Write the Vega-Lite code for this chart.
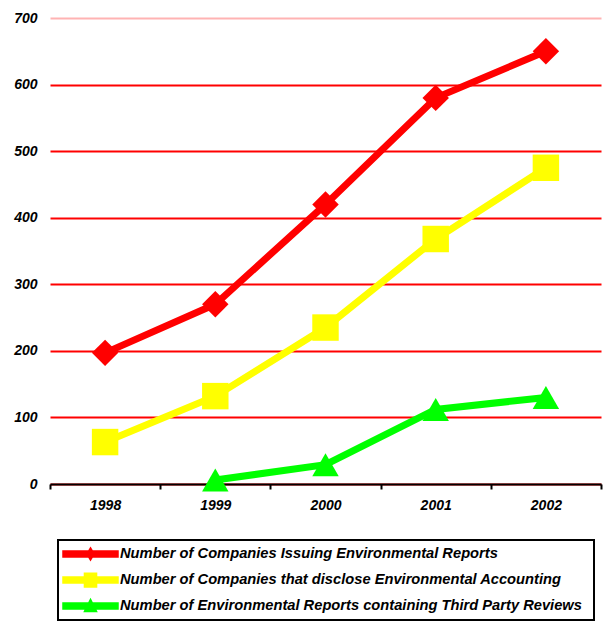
{
  "$schema": "https://vega.github.io/schema/vega-lite/v6.json",
  "width": 551,
  "height": 466,
  "autosize": "none",
  "padding": {"left": 50, "top": 18, "right": 2, "bottom": 139},
  "background": "white",
  "config": {
    "view": {"stroke": null},
    "font": "Liberation Sans"
  },
  "data": {
    "values": [
      {"year": "1998", "series": "Number of Companies Issuing Environmental Reports", "value": 197},
      {"year": "1999", "series": "Number of Companies Issuing Environmental Reports", "value": 270},
      {"year": "2000", "series": "Number of Companies Issuing Environmental Reports", "value": 420},
      {"year": "2001", "series": "Number of Companies Issuing Environmental Reports", "value": 580},
      {"year": "2002", "series": "Number of Companies Issuing Environmental Reports", "value": 650},
      {"year": "1998", "series": "Number of Companies that disclose Environmental Accounting", "value": 63},
      {"year": "1999", "series": "Number of Companies that disclose Environmental Accounting", "value": 132},
      {"year": "2000", "series": "Number of Companies that disclose Environmental Accounting", "value": 235},
      {"year": "2001", "series": "Number of Companies that disclose Environmental Accounting", "value": 368},
      {"year": "2002", "series": "Number of Companies that disclose Environmental Accounting", "value": 475},
      {"year": "1999", "series": "Number of Environmental Reports containing Third Party Reviews", "value": 6},
      {"year": "2000", "series": "Number of Environmental Reports containing Third Party Reviews", "value": 29},
      {"year": "2001", "series": "Number of Environmental Reports containing Third Party Reviews", "value": 112},
      {"year": "2002", "series": "Number of Environmental Reports containing Third Party Reviews", "value": 130}
    ]
  },
  "encoding": {
    "x": {
      "field": "year",
      "type": "ordinal",
      "bandPosition": 0.5,
      "scale": {"type": "band", "paddingInner": 0, "paddingOuter": 0},
      "axis": {
        "title": null,
        "labelAngle": 0,
        "tickBand": "extent",
        "domainColor": "black",
        "domainWidth": 2,
        "tickColor": "black",
        "tickWidth": 2,
        "tickSize": 5,
        "labelPadding": 9,
        "labelFont": "Liberation Sans",
        "labelFontSize": 14,
        "labelFontWeight": "bold",
        "labelFontStyle": "italic",
        "labelColor": "black"
      }
    },
    "y": {
      "field": "value",
      "type": "quantitative",
      "scale": {"domain": [0, 700], "nice": false},
      "axis": {
        "title": null,
        "values": [0, 100, 200, 300, 400, 500, 600, 700],
        "domain": false,
        "ticks": false,
        "labelPadding": 13,
        "labelFont": "Liberation Sans",
        "labelFontSize": 14,
        "labelFontWeight": "bold",
        "labelFontStyle": "italic",
        "labelColor": "black",
        "grid": true,
        "gridWidth": 2,
        "gridColor": {"condition": {"test": "datum.value == 700", "value": "#ffb3b3"}, "value": "#ff0000"},
        "zindex": 0
      }
    },
    "color": {
      "field": "series",
      "type": "nominal",
      "scale": {
        "domain": [
          "Number of Companies Issuing Environmental Reports",
          "Number of Companies that disclose Environmental Accounting",
          "Number of Environmental Reports containing Third Party Reviews"
        ],
        "range": ["#ff0000", "#ffff00", "#00ff00"]
      },
      "legend": {
        "title": " ",
        "titleOrient": "right",
        "titlePadding": 10,
        "orient": "none",
        "legendX": 8,
        "legendY": 522,
        "direction": "vertical",
        "strokeColor": "black",
        "padding": 2,
        "clipHeight": 24,
        "rowPadding": 2,
        "symbolSize": 3025,
        "symbolOffset": 2,
        "labelOffset": 1,
        "labelFont": "Liberation Sans",
        "labelFontSize": 14.7,
        "labelFontWeight": "bold",
        "labelFontStyle": "italic",
        "labelColor": "black",
        "labelLimit": 700,
        "encode": {
          "legend": {"update": {"strokeWidth": {"value": 2}}},
          "symbols": {
            "update": {
              "shape": {"signal": "indexof(datum.value, 'Issuing') >= 0 ? 'M-1,-0.11L1,-0.11L1,0.11L-1,0.11Z M0,-0.22L0.13,0L0,0.22L-0.13,0Z' : indexof(datum.value, 'disclose') >= 0 ? 'M-1,-0.11L1,-0.11L1,0.11L-1,0.11Z M-0.22,-0.25L0.22,-0.25L0.22,0.25L-0.22,0.25Z' : 'M-1,-0.11L1,-0.11L1,0.11L-1,0.11Z M0,-0.24L0.22,0.2L-0.22,0.2Z'"},
              "fill": {"signal": "indexof(datum.value, 'Issuing') >= 0 ? '#ff0000' : indexof(datum.value, 'disclose') >= 0 ? '#ffff00' : '#00ff00'"},
              "stroke": {"value": "transparent"},
              "opacity": {"value": 1}
            }
          }
        }
      }
    }
  },
  "layer": [
    {
      "mark": {"type": "line", "strokeWidth": 7}
    },
    {
      "transform": [{"filter": "indexof(datum.series, 'Issuing') >= 0"}],
      "mark": {"type": "point", "shape": "diamond", "filled": true, "opacity": 1, "size": 700}
    },
    {
      "transform": [{"filter": "indexof(datum.series, 'disclose') >= 0"}],
      "mark": {"type": "point", "shape": "square", "filled": true, "opacity": 1, "size": 700}
    },
    {
      "transform": [{"filter": "indexof(datum.series, 'Third') >= 0"}],
      "mark": {"type": "point", "shape": "triangle-up", "filled": true, "opacity": 1, "size": 700}
    }
  ]
}
